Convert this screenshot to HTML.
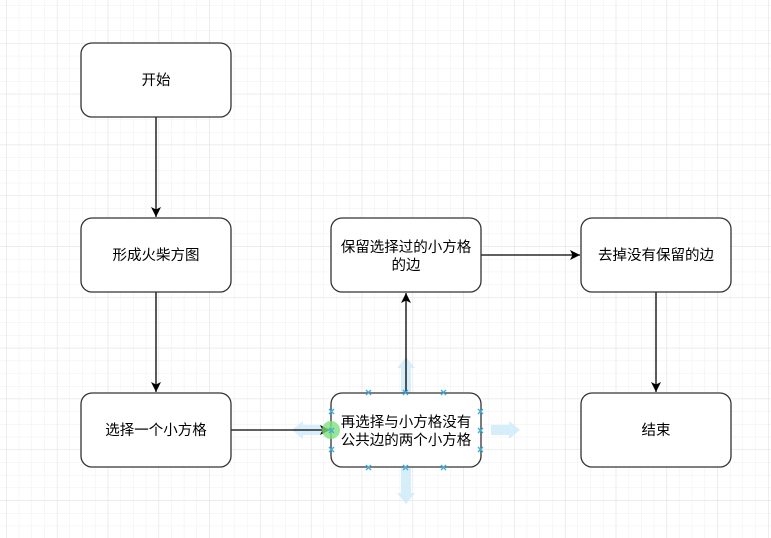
<!DOCTYPE html>
<html><head><meta charset="utf-8"><style>
html,body{margin:0;padding:0;background:#fff;}
svg{display:block;}
text{font-family:"Liberation Sans","Noto Sans CJK SC",sans-serif;font-size:14.5px;fill:#000;}
</style></head><body>
<svg width="771" height="538" xmlns="http://www.w3.org/2000/svg">
<defs>
<pattern id="g" x="6" y="5" width="12.7" height="12.7" patternUnits="userSpaceOnUse">
<path d="M0 0H12.7M0 0V12.7" stroke="#efefef" stroke-width="1" fill="none"/>
</pattern>
<pattern id="G" x="57" y="43" width="50.8" height="50.8" patternUnits="userSpaceOnUse">
<path d="M0 0H50.8M0 0V50.8" stroke="#e2e2e2" stroke-width="1" fill="none"/>
</pattern>
<marker id="a" markerWidth="12" markerHeight="12" refX="10" refY="5" orient="auto" markerUnits="userSpaceOnUse">
<path d="M0 0L10 5L0 10L2.5 5Z" fill="#000"/>
</marker>
</defs>
<rect width="771" height="538" fill="url(#g)"/>
<rect width="771" height="538" fill="url(#G)"/>
<g fill="#cdeafa" opacity="0.8">
<path d="M401 393V368H397L406 357L415 368H411V393Z"/>
<path d="M401 468V493H397L406 504L415 493H411V468Z"/>
<path d="M491 425H509V421L520 430L509 439V435H491Z"/>
<path d="M321 425H303V421L292 430L303 439V435H321Z"/>
</g>
<g stroke="#000" stroke-width="1.3" fill="none">
<line x1="156" y1="117" x2="156" y2="217" marker-end="url(#a)"/>
<line x1="156" y1="292" x2="156" y2="392" marker-end="url(#a)"/>
<line x1="231" y1="430" x2="330" y2="430" marker-end="url(#a)"/>
<line x1="406" y1="393" x2="406" y2="293" marker-end="url(#a)"/>
<line x1="481" y1="255" x2="580" y2="255" marker-end="url(#a)"/>
<line x1="656" y1="292" x2="656" y2="392" marker-end="url(#a)"/>
</g>
<g fill="#fff" stroke="#333" stroke-width="1.3">
<rect x="81" y="43" width="150" height="74" rx="11"/>
<rect x="81" y="218" width="150" height="74" rx="11"/>
<rect x="81" y="393" width="150" height="74" rx="11"/>
<rect x="331" y="393" width="150" height="74" rx="11"/>
<rect x="331" y="218" width="150" height="74" rx="11"/>
<rect x="581" y="218" width="150" height="74" rx="11"/>
<rect x="581" y="393" width="150" height="74" rx="11"/>
</g>
<circle cx="331" cy="430" r="9" fill="#7ee07e" opacity="0.8"/>
<g stroke="#3aaee0" stroke-width="1.4">
<path d="M366 390l5 5m0-5l-5 5M403 390l5 5m0-5l-5 5M441 390l5 5m0-5l-5 5"/>
<path d="M366 465l5 5m0-5l-5 5M403 465l5 5m0-5l-5 5M441 465l5 5m0-5l-5 5"/>
<path d="M329 409l5 5m0-5l-5 5M329 428l5 5m0-5l-5 5M329 447l5 5m0-5l-5 5"/>
<path d="M478 409l5 5m0-5l-5 5M478 428l5 5m0-5l-5 5M478 447l5 5m0-5l-5 5"/>
</g>
<g text-anchor="middle">
<text x="156" y="85">开始</text>
<text x="156" y="260">形成火柴方图</text>
<text x="156" y="435">选择一个小方格</text>
<text x="406" y="427">再选择与小方格没有</text>
<text x="406" y="445">公共边的两个小方格</text>
<text x="406" y="252">保留选择过的小方格</text>
<text x="406" y="270">的边</text>
<text x="656" y="260">去掉没有保留的边</text>
<text x="656" y="435">结束</text>
</g>
</svg>
</body></html>
